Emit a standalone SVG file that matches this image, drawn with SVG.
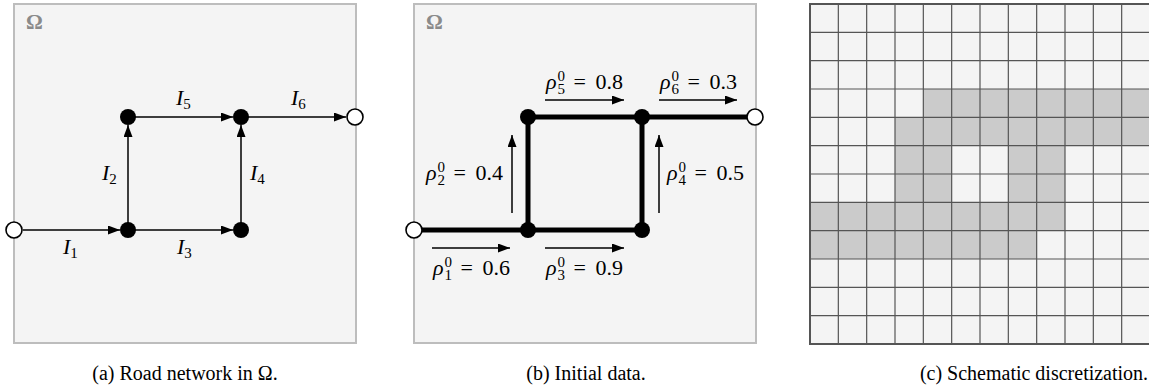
<svg xmlns="http://www.w3.org/2000/svg" width="1149" height="392" viewBox="0 0 1149 392">
<defs>
<style>
text{font-family:'Liberation Serif','Times New Roman',serif}
.box{fill:#f4f4f4;stroke:#bdbdbd;stroke-width:2}
.omega{font-weight:bold;font-size:21px;fill:#8a8a8a}
.edge{stroke:#000;stroke-width:1.5;fill:none}
.road{stroke:#000;stroke-width:5;fill:none}
.lab{font-size:22px;fill:#000}
.it{font-style:italic}
.sm{font-size:15px;font-style:normal}
.cap{font-size:20px;fill:#000;text-anchor:middle}
.node{fill:#000}
.open{fill:#fff;stroke:#000;stroke-width:1.6}
.cell{fill:#cbcbcb}
.grid{stroke:#555;stroke-width:1.2;fill:none}
</style>
<marker id="ah" viewBox="0 0 12 9" refX="12" refY="4.5" markerWidth="12" markerHeight="9" markerUnits="userSpaceOnUse" orient="auto">
<path d="M0,0 L12,4.5 L0,9 z" fill="#000"/>
</marker>
</defs>

<!-- Panel (a) -->
<g id="panel-a">
<rect class="box" x="14" y="4" width="342" height="339"/>
<text class="omega" x="26" y="29">Ω</text>
<g id="connectors-a">
<line class="edge" x1="23" y1="230" x2="120" y2="230" marker-end="url(#ah)"/>
<line class="edge" x1="128" y1="230" x2="128" y2="125" marker-end="url(#ah)"/>
<line class="edge" x1="128" y1="230" x2="233" y2="230" marker-end="url(#ah)"/>
<line class="edge" x1="241" y1="230" x2="241" y2="125" marker-end="url(#ah)"/>
<line class="edge" x1="128" y1="117" x2="233" y2="117" marker-end="url(#ah)"/>
<line class="edge" x1="241" y1="117" x2="346" y2="117" marker-end="url(#ah)"/>
</g>
<g id="a-in"><circle class="open" cx="14" cy="230" r="8"/></g>
<g id="a-n1"><circle class="node" cx="128" cy="230" r="8"/></g>
<g id="a-n2"><circle class="node" cx="241" cy="230" r="8"/></g>
<g id="a-n3"><circle class="node" cx="128" cy="117" r="8"/></g>
<g id="a-n4"><circle class="node" cx="241" cy="117" r="8"/></g>
<g id="a-out"><circle class="open" cx="355" cy="117" r="8"/></g>
<g id="a-labels">
<text class="lab it" x="63" y="254">I<tspan class="sm" dy="4">1</tspan></text>
<text class="lab it" x="102" y="180">I<tspan class="sm" dy="4">2</tspan></text>
<text class="lab it" x="177" y="254">I<tspan class="sm" dy="4">3</tspan></text>
<text class="lab it" x="250" y="180">I<tspan class="sm" dy="4">4</tspan></text>
<text class="lab it" x="176" y="105">I<tspan class="sm" dy="4">5</tspan></text>
<text class="lab it" x="291" y="105">I<tspan class="sm" dy="4">6</tspan></text>
</g>
</g>

<!-- Panel (b) -->
<g id="panel-b">
<rect class="box" x="414" y="4" width="342" height="339"/>
<text class="omega" x="426" y="29">Ω</text>
<g id="connectors-b">
<path class="road" d="M414,230 H642 M528,230 V117 M642,230 V117 M528,117 H755"/>
<line class="edge" x1="432" y1="248" x2="510" y2="248" marker-end="url(#ah)"/>
<line class="edge" x1="545" y1="248" x2="624" y2="248" marker-end="url(#ah)"/>
<line class="edge" x1="545" y1="100" x2="624" y2="100" marker-end="url(#ah)"/>
<line class="edge" x1="659" y1="100" x2="737" y2="100" marker-end="url(#ah)"/>
<line class="edge" x1="512" y1="213" x2="512" y2="135" marker-end="url(#ah)"/>
<line class="edge" x1="659" y1="213" x2="659" y2="135" marker-end="url(#ah)"/>
</g>
<g id="b-in"><circle class="open" cx="414" cy="230" r="8"/></g>
<g id="b-n1"><circle class="node" cx="528" cy="230" r="8"/></g>
<g id="b-n2"><circle class="node" cx="642" cy="230" r="8"/></g>
<g id="b-n3"><circle class="node" cx="528" cy="117" r="8"/></g>
<g id="b-n4"><circle class="node" cx="642" cy="117" r="8"/></g>
<g id="b-out"><circle class="open" cx="755" cy="117" r="8"/></g>
<g id="b-labels">
<text id="rho1" class="lab" x="433" y="275"><tspan class="it">ρ</tspan><tspan class="sm" x="444.5" y="266.5">0</tspan><tspan class="sm" x="444.5" y="279.5">1</tspan><tspan x="460.5" y="275">=</tspan><tspan x="482.5" y="275">0.6</tspan></text>
<text id="rho3" class="lab" x="546" y="275"><tspan class="it">ρ</tspan><tspan class="sm" x="557.5" y="266.5">0</tspan><tspan class="sm" x="557.5" y="279.5">3</tspan><tspan x="573.5" y="275">=</tspan><tspan x="595.5" y="275">0.9</tspan></text>
<text id="rho5" class="lab" x="546" y="89"><tspan class="it">ρ</tspan><tspan class="sm" x="557.5" y="80.5">0</tspan><tspan class="sm" x="557.5" y="93.5">5</tspan><tspan x="573.5" y="89">=</tspan><tspan x="595.5" y="89">0.8</tspan></text>
<text id="rho6" class="lab" x="660" y="89"><tspan class="it">ρ</tspan><tspan class="sm" x="671.5" y="80.5">0</tspan><tspan class="sm" x="671.5" y="93.5">6</tspan><tspan x="687.5" y="89">=</tspan><tspan x="709.5" y="89">0.3</tspan></text>
<text id="rho2" class="lab" x="426" y="180"><tspan class="it">ρ</tspan><tspan class="sm" x="437.5" y="171.5">0</tspan><tspan class="sm" x="437.5" y="184.5">2</tspan><tspan x="453.5" y="180">=</tspan><tspan x="475.5" y="180">0.4</tspan></text>
<text id="rho4" class="lab" x="667" y="180"><tspan class="it">ρ</tspan><tspan class="sm" x="678.5" y="171.5">0</tspan><tspan class="sm" x="678.5" y="184.5">4</tspan><tspan x="694.5" y="180">=</tspan><tspan x="716.5" y="180">0.5</tspan></text>
</g>
</g>

<!-- Panel (c) -->
<g id="panel-c">
<rect x="810" y="4" width="340" height="340" fill="#f4f4f4"/>
<g id="cells">
<rect class="cell" x="923.33" y="89" width="226.67" height="28.33"/>
<rect class="cell" x="895" y="117.33" width="255" height="28.33"/>
<rect class="cell" x="895" y="145.67" width="56.67" height="56.67"/>
<rect class="cell" x="1008.33" y="145.67" width="56.67" height="56.67"/>
<rect class="cell" x="810" y="202.33" width="255" height="28.33"/>
<rect class="cell" x="810" y="230.67" width="226.67" height="28.33"/>
</g>
<path class="grid" d="M810,4V344 M838.33,4V344 M866.67,4V344 M895,4V344 M923.33,4V344 M951.67,4V344 M980,4V344 M1008.33,4V344 M1036.67,4V344 M1065,4V344 M1093.33,4V344 M1121.67,4V344 M1150,4V344 M810,4H1150 M810,32.33H1150 M810,60.67H1150 M810,89H1150 M810,117.33H1150 M810,145.67H1150 M810,174H1150 M810,202.33H1150 M810,230.67H1150 M810,259H1150 M810,287.33H1150 M810,315.67H1150 M810,344H1150"/>
<rect x="810" y="4" width="340" height="340" fill="none" stroke="#555" stroke-width="2"/>
</g>

<g id="captions">
<text class="cap" x="185" y="380">(a) Road network in Ω.</text>
<text class="cap" x="586" y="380">(b) Initial data.</text>
<text class="cap" x="1034" y="380">(c) Schematic discretization.</text>
</g>
</svg>
